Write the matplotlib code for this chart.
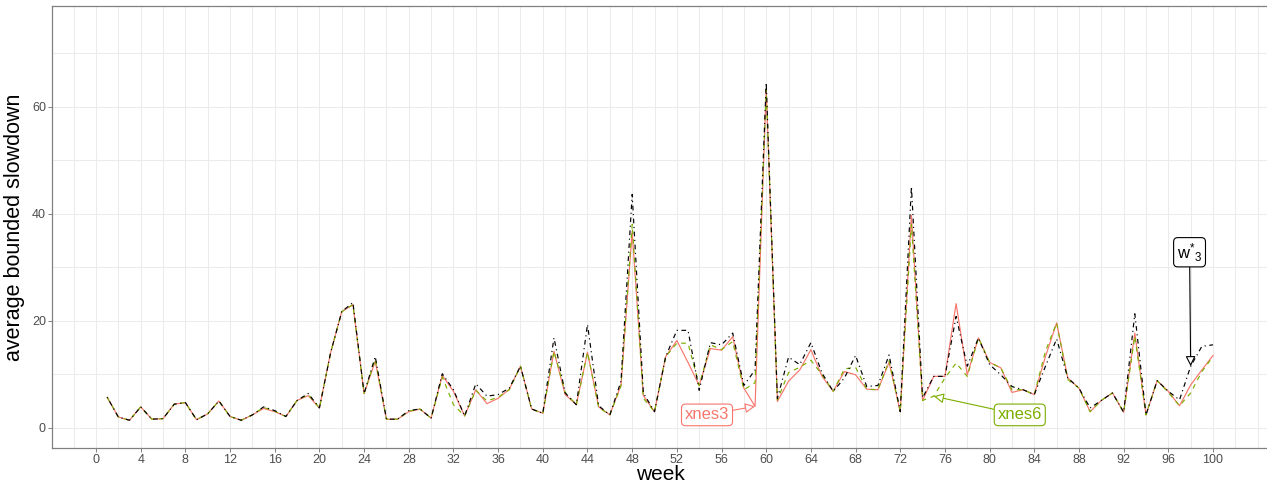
import matplotlib
matplotlib.use("Agg")
import matplotlib.pyplot as plt
import numpy as np

plt.rcParams['font.family'] = ['Liberation Sans', 'DejaVu Sans']

weeks = list(range(1, 101))

w3 = [5.7, 2.0, 1.4, 3.9, 1.6, 1.7, 4.4, 4.7, 1.5, 2.6,
      5.0, 2.1, 1.4, 2.4, 3.9, 3.2, 2.1, 5.1, 6.4, 3.7,
      14.0, 21.7, 23.4, 6.4, 13.3, 1.6, 1.6, 3.2, 3.5, 1.8,
      10.1, 7.1, 2.2, 8.2, 5.9, 6.2, 7.4, 11.5, 3.5, 2.7,
      16.8, 6.5, 4.3, 19.3, 4.1, 2.4, 8.7, 43.6, 6.5, 3.0,
      13.3, 18.2, 18.2, 7.0, 15.9, 15.5, 17.7, 7.9, 10.8, 64.5,
      5.5, 13.2, 11.8, 15.9, 10.2, 6.8, 9.3, 13.5, 7.7, 7.9,
      13.6, 3.0, 45.1, 5.6, 9.6, 9.6, 20.8, 11.5, 16.8, 11.8,
      9.9, 7.7, 7.1, 6.2, 11.5, 16.6, 9.3, 7.4, 3.7, 5.1,
      6.5, 2.9, 21.3, 2.4, 8.8, 6.8, 5.2, 11.5, 15.2, 15.5]

xnes3 = [5.7, 2.0, 1.4, 3.9, 1.6, 1.7, 4.4, 4.7, 1.5, 2.6,
         5.0, 2.1, 1.4, 2.4, 3.6, 3.0, 2.1, 5.1, 6.0, 3.7,
         14.0, 21.7, 23.0, 6.4, 12.4, 1.6, 1.6, 3.0, 3.5, 1.8,
         9.8, 6.8, 2.2, 7.1, 4.5, 5.5, 7.2, 11.5, 3.5, 2.7,
         14.3, 6.2, 4.3, 14.1, 3.9, 2.4, 8.0, 36.7, 6.0, 3.0,
         13.3, 16.3, 12.2, 7.9, 14.8, 14.5, 17.0, 7.4, 4.0, 63.3,
         4.9, 8.7, 10.8, 14.6, 9.6, 6.8, 10.5, 9.9, 7.2, 7.1,
         12.2, 3.0, 39.7, 5.1, 9.6, 9.6, 23.2, 9.9, 16.8, 12.2,
         11.2, 6.6, 7.1, 6.2, 13.3, 19.6, 9.3, 7.4, 3.0, 5.1,
         6.5, 2.9, 17.7, 2.4, 8.8, 6.8, 4.1, 8.0, 10.8, 13.5]

xnes6 = [5.7, 2.0, 1.4, 3.9, 1.6, 1.7, 4.4, 4.7, 1.5, 2.6,
         5.0, 2.1, 1.4, 2.4, 3.8, 3.1, 2.1, 5.1, 6.2, 3.7,
         14.0, 21.7, 23.0, 6.4, 12.8, 1.6, 1.6, 3.1, 3.5, 1.8,
         9.5, 4.3, 2.2, 7.0, 5.0, 5.7, 7.1, 11.5, 3.5, 2.7,
         14.3, 6.6, 4.3, 14.1, 3.8, 2.4, 7.8, 38.0, 5.5, 3.0,
         13.3, 15.8, 15.8, 7.9, 15.5, 14.6, 16.1, 7.1, 8.4, 63.3,
         5.2, 10.3, 11.3, 12.6, 9.9, 6.8, 11.0, 11.3, 7.2, 7.1,
         12.5, 3.0, 38.0, 5.1, 5.9, 9.3, 12.1, 9.6, 16.8, 12.2,
         11.2, 7.1, 7.1, 6.2, 14.3, 19.6, 9.0, 7.4, 3.0, 5.1,
         6.5, 2.9, 17.1, 2.4, 8.8, 6.6, 4.1, 6.5, 10.5, 13.3]

x_ticks = list(range(0, 101, 4))
y_ticks = [0, 20, 40, 60]

RED = '#F8766D'
GREEN = '#7CAE00'
GRID = '#EBEBEB'
FRAME = '#808080'
TXT = '#4D4D4D'

W, H = 1267, 482
fig = plt.figure(figsize=(W / 100, H / 100), dpi=100)
ax = fig.add_axes([51.9 / W, 34.2 / H, (1268.3 - 51.9) / W, (447.8 - 6.4) / H])
ax.set_xlim(-3.95, 104.95)
ax.set_ylim(-3.75, 78.75)

# grid
for gx in np.arange(-2, 105, 2):
    ax.axvline(gx, color=GRID, lw=0.75, zorder=0)
for gy in [0, 10, 20, 30, 40, 50, 60, 70]:
    ax.axhline(gy, color=GRID, lw=0.75, zorder=0)

lw = 0.85
ax.plot(weeks, xnes3, color=RED, lw=lw, zorder=2)
ax.plot(weeks, xnes6, color=GREEN, lw=lw, dashes=[4, 4], zorder=3)
ax.plot(weeks, w3, color='black', lw=lw, dashes=[1, 3, 4, 3], zorder=4)

ax.set_xticks(x_ticks)
ax.set_yticks(y_ticks)
ax.tick_params(axis='both', direction='out', length=2.75, width=0.7, color=FRAME,
               labelcolor=TXT, labelsize=9, pad=1.5)
for s in ax.spines.values():
    s.set_color(FRAME)
    s.set_linewidth(0.9)

ax.set_xlabel('week', fontsize=15, color='black', labelpad=-0.5)
ax.set_ylabel('average bounded slowdown', fontsize=15.5, color='black', labelpad=5)

def label(text, xy, xytext, col):
    ax.annotate(text, xy=xy, xytext=xytext, textcoords='data',
                ha='center', va='center', color=col, fontsize=12, zorder=6,
                bbox=dict(boxstyle='round,pad=0.2,rounding_size=0.25', fc='white', ec=col, lw=0.8),
                arrowprops=dict(arrowstyle='-|>,head_length=0.5,head_width=0.25', color=col,
                                fc='white', lw=0.8, shrinkA=0, shrinkB=0))

label('xnes3', (59, xnes3[58]), (54.7, 2.4), RED)
label('xnes6', (75, xnes6[74]), (82.7, 2.4), GREEN)
label(r'$\mathregular{w^{*}{}_{3}}$', (98, w3[97]), (97.9, 32.8), 'black')

fig.savefig('out.png', dpi=100)
